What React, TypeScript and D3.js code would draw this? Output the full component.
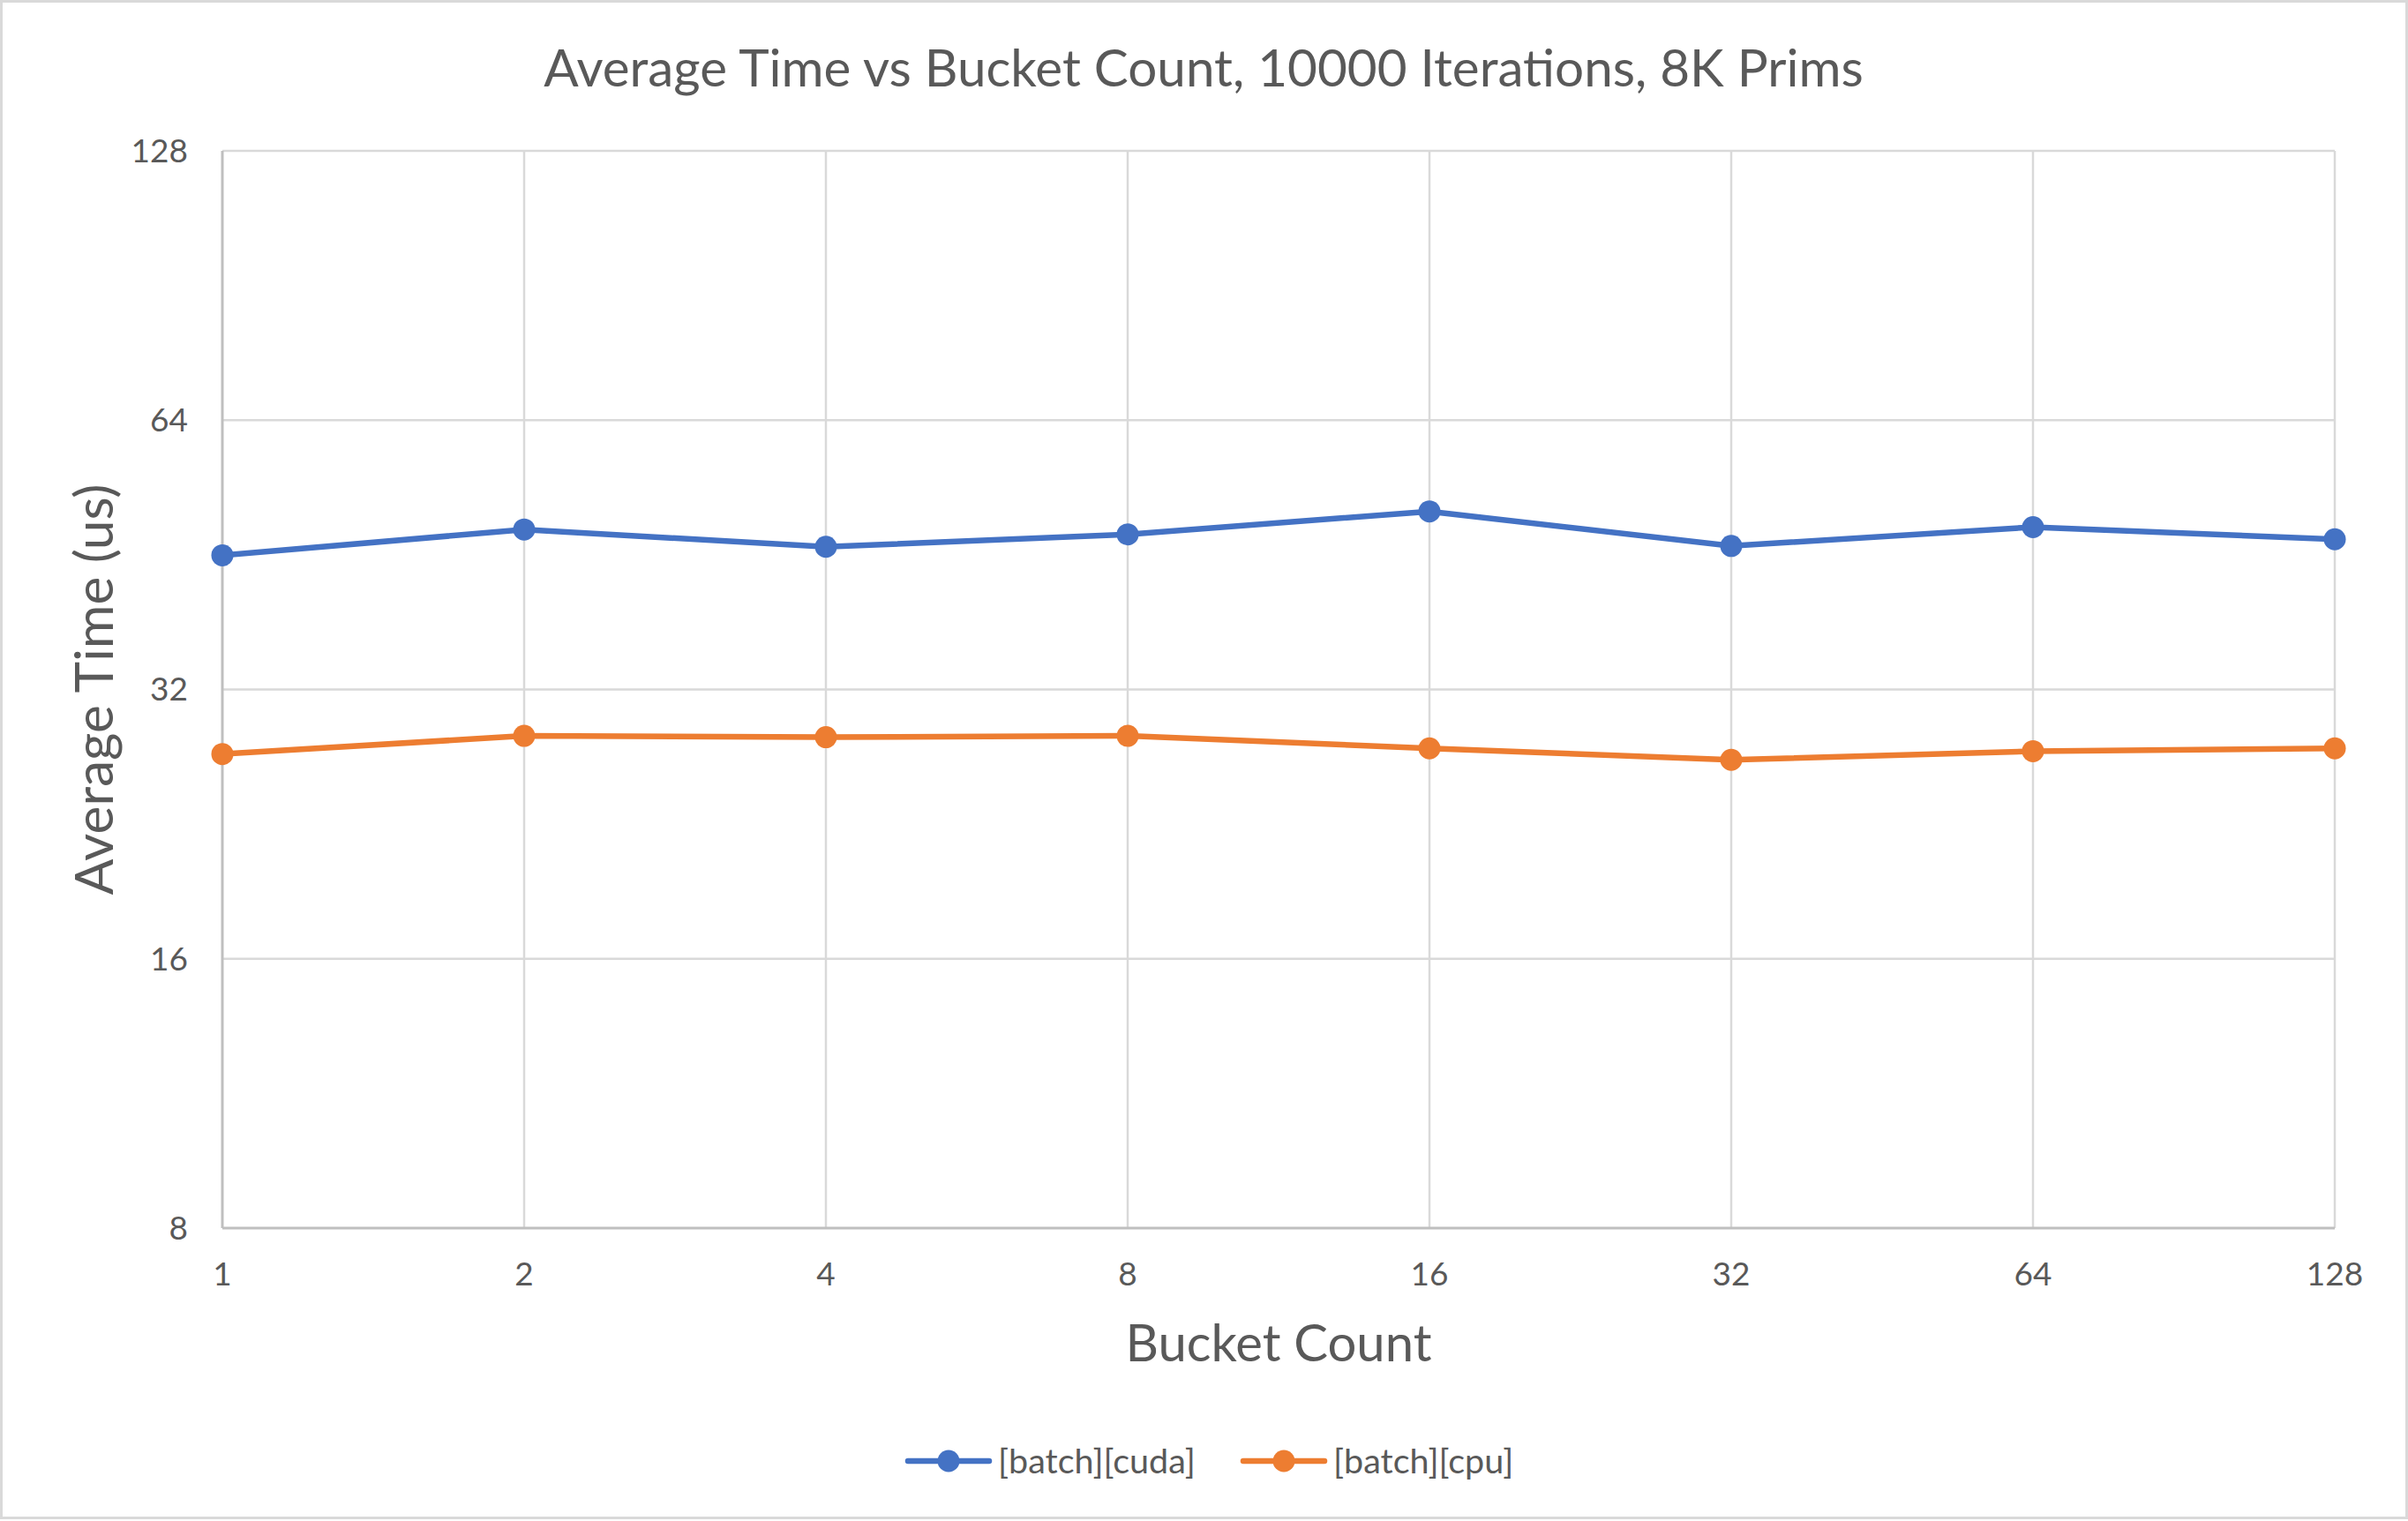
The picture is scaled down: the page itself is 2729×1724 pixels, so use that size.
import * as d3 from 'd3';

const W = 2729;
const H = 1724;

const bucketCounts = [1, 2, 4, 8, 16, 32, 64, 128];
const cudaTimes = [45.2, 48.3, 46.2, 47.7, 50.6, 46.3, 48.6, 47.1];
const cpuTimes = [27.1, 28.4, 28.3, 28.4, 27.5, 26.7, 27.3, 27.5];
const yTicks = [8, 16, 32, 64, 128];

const seriesNames = ['[batch][cuda]', '[batch][cpu]'];
const seriesColors = ['#4472C4', '#ED7D31'];

const FONT = 'Lato, "Open Sans", sans-serif';
const TEXT = '#595959';

export default function App() {
  const x = d3.scaleLog().base(2).domain([1, 128]).range([252, 2646]);
  const y = d3.scaleLog().base(2).domain([8, 128]).range([1392, 171]);

  const line = d3
    .line<[number, number]>()
    .x((d) => x(d[0]))
    .y((d) => y(d[1]));

  const series = [cudaTimes, cpuTimes].map((vals) =>
    bucketCounts.map((b, i) => [b, vals[i]] as [number, number])
  );

  // legend layout
  const legendY = 1656;
  const legendItems = [
    { x0: 1029, tx: 1131 },
    { x0: 1409, tx: 1511 },
  ];

  return (
    <svg
      width={W}
      height={H}
      style={{ position: 'absolute', left: 0, top: 0, display: 'block' }}
      fontFamily={FONT}
    >
      <rect x={1.5} y={1.5} width={W - 3} height={H - 5} fill="#fff" stroke="#d9d9d9" strokeWidth={3} />

      <text x={1364} y={98} textAnchor="middle" fontSize={58.4} fill={TEXT}>
        Average Time vs Bucket Count, 10000 Iterations, 8K Prims
      </text>

      {/* horizontal gridlines */}
      {yTicks.slice(1).map((t) => (
        <line key={'h' + t} x1={x(1)} x2={x(128)} y1={y(t)} y2={y(t)} stroke="#d9d9d9" strokeWidth={2.5} />
      ))}
      {/* vertical gridlines */}
      {bucketCounts.slice(1).map((b) => (
        <line key={'v' + b} x1={x(b)} x2={x(b)} y1={y(128)} y2={y(8)} stroke="#d9d9d9" strokeWidth={2.5} />
      ))}
      {/* axes */}
      <line x1={x(1)} x2={x(1)} y1={y(128)} y2={y(8)} stroke="#bfbfbf" strokeWidth={3} />
      <line x1={x(1)} x2={x(128)} y1={y(8)} y2={y(8)} stroke="#bfbfbf" strokeWidth={3} />

      {yTicks.map((t) => (
        <text key={'yt' + t} x={213} y={y(t)} dy="0.35em" textAnchor="end" fontSize={37} fill={TEXT}>
          {t}
        </text>
      ))}
      {bucketCounts.map((b) => (
        <text key={'xt' + b} x={x(b)} y={1457} textAnchor="middle" fontSize={37} fill={TEXT}>
          {b}
        </text>
      ))}

      <text x={1449} y={1543} textAnchor="middle" fontSize={58} fill={TEXT}>
        Bucket Count
      </text>
      <text
        transform={`translate(128, ${(y(8) + y(128)) / 2}) rotate(-90)`}
        textAnchor="middle"
        fontSize={60.5}
        fill={TEXT}
      >
        Average Time (us)
      </text>

      {series.map((pts, si) => (
        <g key={'s' + si}>
          <path
            d={line(pts) || ''}
            fill="none"
            stroke={seriesColors[si]}
            strokeWidth={6.5}
            strokeLinejoin="round"
            strokeLinecap="round"
          />
          {pts.map((p, i) => (
            <circle key={i} cx={x(p[0])} cy={y(p[1])} r={12.5} fill={seriesColors[si]} />
          ))}
        </g>
      ))}

      {legendItems.map((it, i) => (
        <g key={'lg' + i}>
          <line
            x1={it.x0}
            x2={it.x0 + 92}
            y1={legendY}
            y2={legendY}
            stroke={seriesColors[i]}
            strokeWidth={6.5}
            strokeLinecap="round"
          />
          <circle cx={it.x0 + 46} cy={legendY} r={12.5} fill={seriesColors[i]} />
          <text x={it.tx} y={legendY} dy="0.35em" fontSize={39.5} fill={TEXT}>
            {seriesNames[i]}
          </text>
        </g>
      ))}
    </svg>
  );
}
